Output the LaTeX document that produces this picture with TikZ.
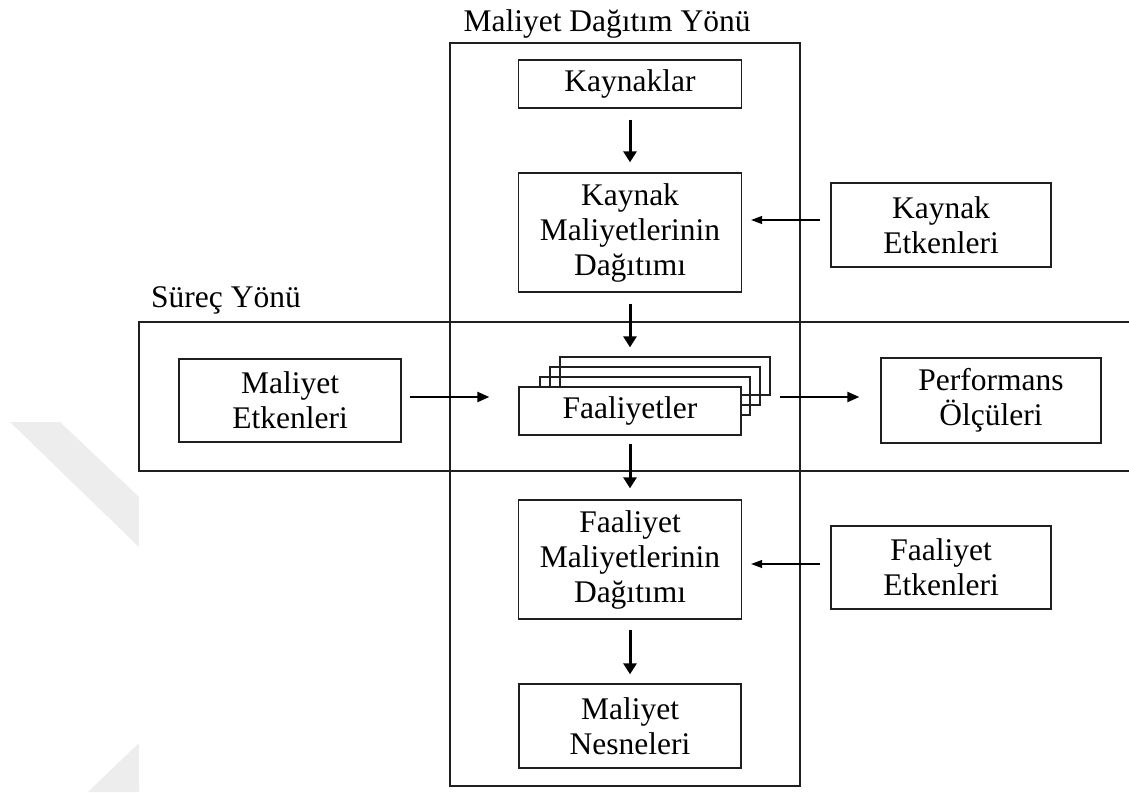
\documentclass[tikz,border=0pt]{standalone}
\usepackage{fontspec}
\setmainfont{Liberation Serif}
\usetikzlibrary{arrows.meta,calc}

\begin{document}
\begin{tikzpicture}[x=1pt,y=-1pt,
  every node/.style={font=\fontsize{31.5}{35}\selectfont, text=black},
  box/.style={draw=black!88, line width=1.3pt, fill=white, inner sep=0pt, align=center},
  ghost/.style={draw=black!88, line width=1.3pt, inner sep=0pt},
  frame/.style={draw=black!88, line width=1.3pt},
  bigarrow/.style={line width=3pt, -{Triangle[length=11pt,width=13pt]}},
  midarrow/.style={line width=2.3pt, -{Triangle[length=12pt,width=10pt]}},
  thinarrow/.style={line width=1.1pt, -{Triangle[length=11pt,width=8pt]}}
]
\useasboundingbox (0,0) rectangle (1129,792);
\fill[white] (0,0) rectangle (1129,792);

% faint background band
\fill[black!7] (10,422) -- (60,422) -- (139,497) -- (139,547) -- cycle;
\fill[black!7] (139,743) -- (139,792) -- (88,792) -- cycle;
\fill[white] (139,0) rectangle (1129,787);

% cost allocation direction (vertical frame)
\node[ghost, minimum width=350pt, minimum height=743pt] (costframe) at (625,414.5) {};
\node[anchor=base] (costlabel) at (607,32) {Maliyet Dağıtım Yönü};

% process direction (horizontal frame, open on the right)
\coordinate (pTR) at (1129,322);
\coordinate (pTL) at (139,322);
\coordinate (pBL) at (139,471);
\coordinate (pBR) at (1129,471);
\draw[frame] (pTR) -- (pTL) -- (pBL) -- (pBR);
\node[anchor=base] (proclabel) at (226,307) {Süreç Yönü};

% main column
\node[box, minimum width=223pt, minimum height=48pt] (kay) at (630,84) {Kaynaklar};
\node[box, minimum width=223pt, minimum height=119pt] (kmd) at (630,232.5) {Kaynak\\Maliyetlerinin\\Dağıtımı};

% stacked activities
\node[ghost, minimum width=210pt, minimum height=38pt] (fa3) at (665,376) {};
\node[ghost, minimum width=210pt, minimum height=38pt] (fa2) at (655,386) {};
\node[ghost, minimum width=210pt, minimum height=38pt] (fa1) at (645,396) {};
\node[box, minimum width=222pt, minimum height=48pt] (fa) at (630,411) {Faaliyetler};

\node[box, minimum width=223pt, minimum height=119pt] (fmd) at (630,559.5) {Faaliyet\\Maliyetlerinin\\Dağıtımı};
\node[box, minimum width=222pt, minimum height=84pt] (mn) at (630,726) {Maliyet\\Nesneleri};

% side boxes
\node[box, minimum width=220pt, minimum height=84pt] (ke) at (941,225) {Kaynak\\Etkenleri};
\node[box, minimum width=220pt, minimum height=83pt] (fe) at (941,567.5) {Faaliyet\\Etkenleri};
\node[box, minimum width=222pt, minimum height=83pt] (me) at (290,400.5) {Maliyet\\Etkenleri};
\node[box, minimum width=220pt, minimum height=85pt] (pf) at (991,400.5) {Performans\\Ölçüleri};

% vertical flow
\draw[bigarrow, shorten <=11pt, shorten >=10pt] (kay.south) -- (kmd.north);
\draw[bigarrow, shorten <=11pt, shorten >=9pt] (kmd.south) -- (kmd.south |- fa3.north);
\draw[bigarrow, shorten <=8pt, shorten >=11pt] (fa.south) -- (fmd.north);
\draw[bigarrow, shorten <=10pt, shorten >=9pt] (fmd.south) -- (mn.north);

% horizontal flow
\draw[midarrow, shorten <=8pt, shorten >=29pt] ([yshift=3.5pt]me.east) -- ([yshift=3.5pt]me.east -| fa.west);
\draw[midarrow, shorten <=9pt, shorten >=21pt] ([yshift=3.5pt]pf.west -| fa3.east) -- ([yshift=3.5pt]pf.west);

% drivers
\draw[thinarrow, shorten <=10pt, shorten >=9pt] ([yshift=5pt]ke.west) -- ([yshift=5pt]ke.west -| kmd.east);
\draw[thinarrow, shorten <=10pt, shorten >=9pt] ([yshift=3.5pt]fe.west) -- ([yshift=3.5pt]fe.west -| fmd.east);
\end{tikzpicture}
\end{document}
